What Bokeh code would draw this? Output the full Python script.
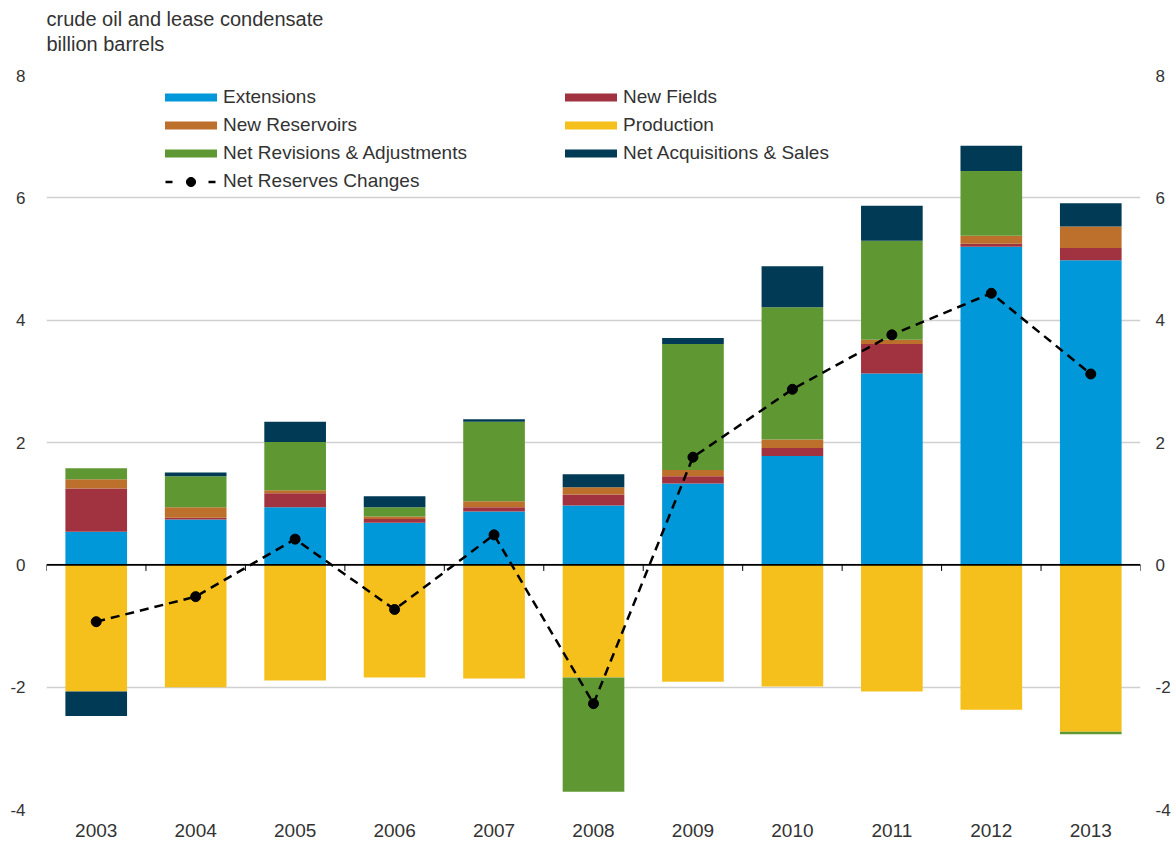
import numpy as np
from bokeh.plotting import figure
from bokeh.models import (ColumnDataSource, FactorRange, Range1d, LinearAxis, FixedTicker,
                          PrintfTickFormatter, Span, Legend, LegendItem, Title)
from bokeh.embed import file_html
from bokeh.resources import INLINE

# ---------------- data (billion barrels) ----------------
years = ["2003", "2004", "2005", "2006", "2007", "2008", "2009", "2010", "2011", "2012", "2013"]
extensions = [0.54, 0.74, 0.94, 0.69, 0.87, 0.97, 1.33, 1.78, 3.13, 5.20, 4.98]
new_fields = [0.71, 0.03, 0.23, 0.06, 0.07, 0.18, 0.12, 0.13, 0.48, 0.05, 0.20]
new_reservoirs = [0.15, 0.17, 0.05, 0.04, 0.10, 0.12, 0.10, 0.14, 0.07, 0.13, 0.35]
production = [-2.07, -2.00, -1.89, -1.84, -1.86, -1.84, -1.91, -1.99, -2.07, -2.37, -2.73]
net_revisions = [0.18, 0.51, 0.79, 0.15, 1.30, -1.87, 2.06, 2.16, 1.62, 1.06, -0.04]
net_acquisitions = [-0.40, 0.06, 0.33, 0.18, 0.04, 0.21, 0.10, 0.67, 0.57, 0.41, 0.38]
net_changes = [-0.93, -0.52, 0.42, -0.73, 0.49, -2.27, 1.76, 2.87, 3.76, 4.44, 3.12]
y_ticks = [-4, -2, 0, 2, 4, 6, 8]
title_lines = ["crude oil and lease condensate", "billion barrels"]

series = [
    ("Extensions", extensions, "#0098D8"),
    ("New Fields", new_fields, "#A0333F"),
    ("New Reservoirs", new_reservoirs, "#BC702C"),
    ("Production", production, "#F5C01B"),
    ("Net Revisions & Adjustments", net_revisions, "#5F9833"),
    ("Net Acquisitions & Sales", net_acquisitions, "#003A54"),
]

FONT = "Liberation Sans"
TXT = "#333333"

p = figure(width=1173, height=844, output_backend="svg", toolbar_location=None,
           x_range=FactorRange(factors=years, range_padding=0),
           y_range=Range1d(-4, 8),
           min_border_left=46, min_border_right=31, min_border_top=75, min_border_bottom=35)
p.outline_line_color = None
p.background_fill_color = "white"

# title (two lines, top-left); bottom padding lifts the text above the frame
title = Title(text="\n".join(title_lines), align="left", vertical_align="bottom",
              text_font=FONT, text_font_size="20px", text_font_style="normal",
              text_color=TXT, text_line_height=1.15, standoff=0,
              padding=dict(left=0, right=0, top=0, bottom=20))
p.title = title

# stacked bars: positive values stack upward, negative values stack downward
pos_base = np.zeros(len(years))
neg_base = np.zeros(len(years))
renderers = {}
for name, vals, color in series:
    v = np.array(vals, dtype=float)
    bottom = np.where(v >= 0, pos_base, neg_base)
    top = bottom + v
    pos_base = np.where(v >= 0, top, pos_base)
    neg_base = np.where(v < 0, top, neg_base)
    src = ColumnDataSource(dict(x=years, bottom=bottom, top=top))
    renderers[name] = p.vbar(x="x", bottom="bottom", top="top", width=0.62, source=src,
                             fill_color=color, line_color=None)

# zero line with category-boundary ticks
p.add_layout(Span(location=0, dimension="width", line_color="black", line_width=1.6))
bounds = list(range(len(years) + 1))
p.segment(x0=bounds, x1=bounds, y0=[0] * len(bounds), y1=[-0.1] * len(bounds),
          line_color="black", line_width=1)

# net reserves changes line
line_src = ColumnDataSource(dict(x=years, y=net_changes))
ln = p.line(x="x", y="y", source=line_src, line_color="black", line_width=2.5, line_dash="9 6")
sc = p.scatter(x="x", y="y", source=line_src, size=10, fill_color="black", line_color="black")
# legend-only key for the line (Excel-style "- o -" swatch); draws nothing in the plot
key_src = ColumnDataSource(dict(x=years, y=[float("nan")] * len(years)))
ln_key = p.line(x="x", y="y", source=key_src, line_color="black", line_width=2.5,
                line_dash="7 36", line_dash_offset=36)

# axes
p.xaxis.axis_line_color = None
p.xaxis.major_tick_line_color = None
p.xaxis.minor_tick_line_color = None
p.xaxis.major_tick_out = 0
p.xaxis.major_tick_in = 0
p.xaxis.major_label_text_font = FONT
p.xaxis.major_label_text_font_size = "19px"
p.xaxis.major_label_text_color = TXT
p.xaxis.major_label_standoff = 14

p.yaxis.ticker = FixedTicker(ticks=y_ticks)
right_axis = LinearAxis(ticker=FixedTicker(ticks=y_ticks))
p.add_layout(right_axis, "right")
for ax, so in ((p.yaxis[0], 21), (right_axis, 15)):
    ax.formatter = PrintfTickFormatter(format="%d")
    ax.axis_line_color = None
    ax.major_tick_line_color = None
    ax.minor_tick_line_color = None
    ax.major_tick_out = 0
    ax.major_tick_in = 0
    ax.minor_tick_out = 0
    ax.minor_tick_in = 0
    ax.major_label_text_font = FONT
    ax.major_label_text_font_size = "17px"
    ax.major_label_text_color = TXT
    ax.major_label_standoff = so

p.xgrid.grid_line_color = None
p.ygrid.ticker = FixedTicker(ticks=y_ticks)
p.ygrid.grid_line_color = "#D0D0D0"
p.ygrid.grid_line_width = 1.5

# legends (two columns; the line key gets its own taller glyph box for a full-size dot)
left_items = [LegendItem(label="Extensions", renderers=[renderers["Extensions"]]),
              LegendItem(label="New Reservoirs", renderers=[renderers["New Reservoirs"]]),
              LegendItem(label="Net Revisions & Adjustments",
                         renderers=[renderers["Net Revisions & Adjustments"]])]
line_items = [LegendItem(label="Net Reserves Changes", renderers=[ln_key, sc])]
right_items = [LegendItem(label="New Fields", renderers=[renderers["New Fields"]]),
               LegendItem(label="Production", renderers=[renderers["Production"]]),
               LegendItem(label="Net Acquisitions & Sales",
                          renderers=[renderers["Net Acquisitions & Sales"]])]

def make_legend(items, loc, gh=10):
    return Legend(items=items, location=loc, glyph_width=65, glyph_height=gh,
                  label_height=28, spacing=0, padding=0, margin=0, label_standoff=0,
                  border_line_color=None, background_fill_alpha=0,
                  label_text_font=FONT, label_text_font_size="19px", label_text_color=TXT)

p.add_layout(make_legend(left_items, (112, 642)))
p.add_layout(make_legend(line_items, (112, 614), gh=23))
p.add_layout(make_legend(right_items, (512, 642)))

open("out.html", "w").write(file_html(p, INLINE))
